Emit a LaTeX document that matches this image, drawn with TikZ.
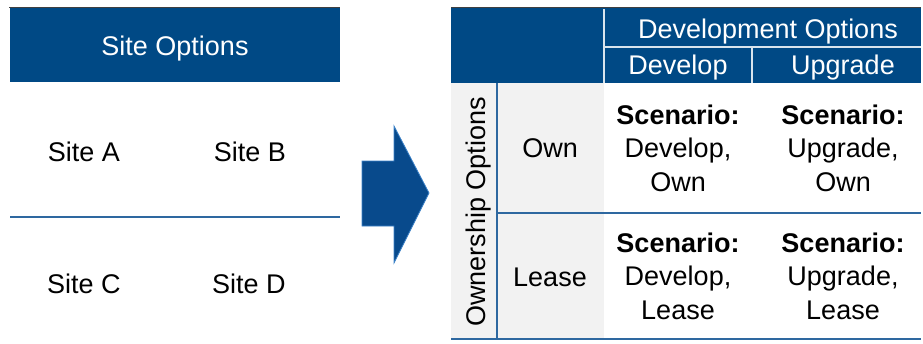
\documentclass[tikz,border=0pt]{standalone}
\usepackage{fontspec}
\setmainfont{Liberation Sans}
\begin{document}
\begin{tikzpicture}[x=1pt,y=-1pt,
  hdr/.style={fill=hdrblue,draw=none},
  rule/.style={draw=lineblue,line width=1.6pt},
  wrule/.style={draw=white!85!hdrblue,line width=1.4pt},
  txt/.style={font=\fontsize{27}{33.5}\selectfont,text=black,inner sep=0pt,align=center,anchor=base},
  wtxt/.style={txt,text=white},
  scen/.style={txt}]
\definecolor{hdrblue}{RGB}{0,73,133}
\definecolor{lineblue}{RGB}{46,104,160}
\definecolor{arrblue}{RGB}{8,74,140}
\definecolor{arredge}{RGB}{60,130,200}
\definecolor{greycol}{RGB}{242,242,242}
\useasboundingbox (0,0) rectangle (923,343);
% left table
\fill[hdrblue] (10,8) rectangle (340,82);
\draw[black!75,line width=1.2pt] (9,7.5) -- (340,7.5);
\node[wtxt] (siteopt) at (175,55) {Site Options};
\node[txt] (sa) at (84,161) {Site A};
\node[txt] (sb) at (250,161) {Site B};
\draw[rule] (10,217) -- (340,217);
\node[txt] (sc) at (84,293) {Site C};
\node[txt] (sd) at (249,293) {Site D};
% arrow
\draw[fill=arrblue,draw=arredge,line width=0.8pt,line join=miter]
  (362,161) -- (394,161) -- (394,126) -- (429,193) -- (394,263) -- (394,226) -- (362,226) -- cycle;
% right table
\fill[hdrblue] (451,8) rectangle (921,83);
\fill[greycol] (451,83) rectangle (604,339);
\draw[black!75,line width=1.2pt] (451,7.5) -- (921,7.5);
\draw[wrule] (604,9) -- (604,83);
\draw[wrule] (604,47) -- (921,47);
\draw[wrule] (752,47) -- (752,83);
\node[wtxt] (devopt) at (768,38) {Development Options};
\node[wtxt] (dev) at (678,74) {Develop};
\node[wtxt] (upg) at (843,74) {Upgrade};
\draw[rule] (497,83) -- (497,339);
\draw[rule] (497,213) -- (921,213);
\draw[rule] (451,339) -- (921,339);
\node[txt,rotate=90] (ownopt) at (485,212) {Ownership Options};
\node[txt] (own) at (550,157) {Own};
\node[txt] (lease) at (550,286) {Lease};
\node[scen] (s1) at (678,191) {\textbf{Scenario:}\\Develop,\\Own};
\node[scen] (s2) at (843,191) {\textbf{Scenario:}\\Upgrade,\\Own};
\node[scen] (s3) at (678,319) {\textbf{Scenario:}\\Develop,\\Lease};
\node[scen] (s4) at (843,319) {\textbf{Scenario:}\\Upgrade,\\Lease};
\end{tikzpicture}
\end{document}
